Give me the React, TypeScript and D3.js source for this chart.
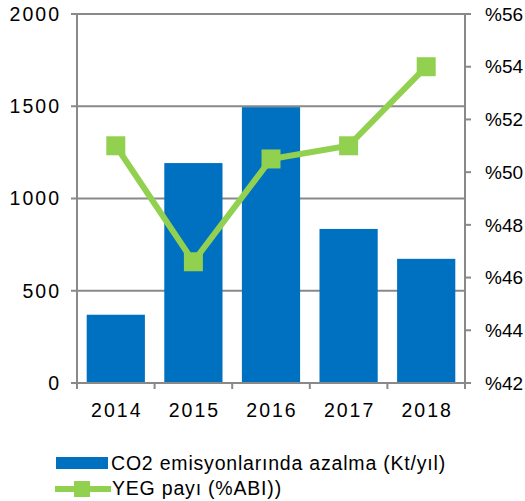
import React from "react";
import * as d3 from "d3";

const years = ["2014", "2015", "2016", "2017", "2018"];
const co2Values = [370, 1192, 1495, 835, 673];
const yegValues = [51.0, 46.6, 50.5, 51.0, 54.0];
const leftTicks = [0, 500, 1000, 1500, 2000];
const rightTicks = [42, 44, 46, 48, 50, 52, 54, 56];
const seriesNames = ["CO2 emisyonlarında azalma (Kt/yıl)", "YEG payı (%ABI))"];

const W = 525;
const H = 501;
const left = 77;
const right = 465;
const top = 14;
const bottom = 383;
const blue = "#0070C0";
const green = "#92D050";
const gray = "#898989";
const font = "'Liberation Sans', Arial, sans-serif";
const fs = 19.5;

export default function App() {
  const x = d3.scaleBand<string>().domain(years).range([left, right]).paddingInner(0.25).paddingOuter(0.125);
  const xb = d3.scaleBand<string>().domain(years).range([left, right]);
  const yL = d3.scaleLinear().domain([0, 2000]).range([bottom, top]);
  const yR = d3.scaleLinear().domain([42, 56]).range([bottom, top]);
  const line = d3
    .line<number>()
    .x((_, i) => (xb(years[i]) as number) + xb.bandwidth() / 2)
    .y((d) => yR(d));
  const ms = 19;
  const tickPos = [...years.map((y) => xb(y) as number), right];

  return (
    <svg width={W} height={H} style={{ position: "absolute", left: 0, top: 0 }}>
      <rect width={W} height={H} fill="#fff" />
      {leftTicks.filter((t) => t > 0).map((t) => (
        <line key={t} x1={left} x2={right} y1={yL(t)} y2={yL(t)} stroke={gray} strokeWidth={2} />
      ))}
      {years.map((yr, i) => (
        <rect key={yr} x={x(yr)} width={x.bandwidth()} y={yL(co2Values[i])} height={bottom - yL(co2Values[i])} fill={blue} />
      ))}
      {/* axes */}
      <line x1={left} x2={left} y1={top} y2={bottom + 1} stroke={gray} strokeWidth={2} />
      <line x1={right} x2={right} y1={top} y2={bottom + 1} stroke={gray} strokeWidth={2} />
      <line x1={left - 6} x2={right + 6} y1={bottom} y2={bottom} stroke={gray} strokeWidth={2} />
      {leftTicks.map((t) => (
        <g key={t}>
          <line x1={left - 6} x2={left} y1={yL(t)} y2={yL(t)} stroke={gray} strokeWidth={2} />
          <text x={61} y={yL(t)} dy="0.35em" textAnchor="end" fontFamily={font} fontSize={fs} letterSpacing={2} fill="#000">
            {t}
          </text>
        </g>
      ))}
      {rightTicks.map((t) => (
        <g key={t}>
          <line x1={right} x2={right + 6} y1={yR(t)} y2={yR(t)} stroke={gray} strokeWidth={2} />
          <text x={485} y={yR(t)} dy="0.35em" textAnchor="start" fontFamily={font} fontSize={19} fill="#000">
            %{t}
          </text>
        </g>
      ))}
      {tickPos.map((p, i) => (
        <line key={i} x1={p} x2={p} y1={bottom} y2={bottom + 6} stroke={gray} strokeWidth={2} />
      ))}
      {years.map((yr) => (
        <text key={yr} x={(xb(yr) as number) + xb.bandwidth() / 2 + 1} y={417} textAnchor="middle" fontFamily={font} fontSize={fs} letterSpacing={2} fill="#000">
          {yr}
        </text>
      ))}
      <path d={line(yegValues) || ""} fill="none" stroke={green} strokeWidth={6} />
      {yegValues.map((v, i) => (
        <rect key={i} x={(xb(years[i]) as number) + xb.bandwidth() / 2 - ms / 2} y={yR(v) - ms / 2} width={ms} height={ms} fill={green} />
      ))}
      {/* legend */}
      <rect x={56} y={457} width={52} height={12} fill={blue} />
      <text x={111} y={470} fontFamily={font} fontSize={fs} letterSpacing={0.8} fill="#000">{seriesNames[0]}</text>
      <line x1={55} x2={111} y1={489} y2={489} stroke={green} strokeWidth={6} />
      <rect x={74} y={481} width={16} height={16} fill={green} />
      <text x={112} y={495} fontFamily={font} fontSize={fs} letterSpacing={0.8} fill="#000">{seriesNames[1]}</text>
    </svg>
  );
}
